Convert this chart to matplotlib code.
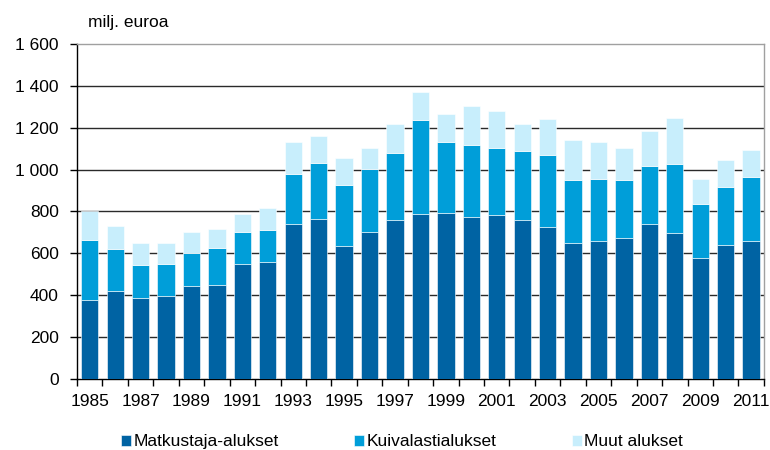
import matplotlib
matplotlib.use("Agg")
import matplotlib.pyplot as plt
import numpy as np

years = list(range(1985, 2012))
matkustaja = [379, 418, 389, 395, 443, 450, 549, 557, 742, 765, 635, 704, 757, 789, 795,
              773, 781, 757, 725, 648, 658, 672, 741, 696, 579, 642, 658]
kuivalasti_top = [664, 619, 542, 549, 603, 626, 702, 710, 979, 1034, 926, 1002, 1080, 1235, 1133,
                  1118, 1104, 1088, 1072, 949, 955, 949, 1018, 1026, 834, 918, 965]
total = [800, 733, 648, 648, 702, 718, 786, 818, 1133, 1163, 1056, 1102, 1218, 1373, 1264,
         1302, 1280, 1218, 1240, 1141, 1133, 1102, 1186, 1248, 955, 1048, 1094]
kuivalasti = [k - m for k, m in zip(kuivalasti_top, matkustaja)]
muut = [t - k for t, k in zip(total, kuivalasti_top)]

series_names = ["Matkustaja-alukset", "Kuivalastialukset", "Muut alukset"]
colors = ["#0063A3", "#009ED9", "#C8EEFC"]
yticks = [0, 200, 400, 600, 800, 1000, 1200, 1400, 1600]
ytick_labels = ["0", "200", "400", "600", "800", "1 000", "1 200", "1 400", "1 600"]

plt.rcParams['font.family'] = ['Liberation Sans', 'DejaVu Sans']

fig = plt.figure(figsize=(7.7, 4.5), dpi=100)
ax = fig.add_axes([0.1, 0.158, 0.892, 0.744])

x = np.arange(len(years))
w = 0.68
bottom = np.zeros(len(years))
handles = []
for vals, col, name in zip([matkustaja, kuivalasti, muut], colors, series_names):
    b = ax.bar(x, vals, w, bottom=bottom, color=col, label=name, zorder=3,
               edgecolor='white', linewidth=0.4)
    handles.append(b)
    bottom += np.array(vals)

ax.set_xlim(-0.5, len(years) - 0.5)
ax.set_ylim(0, 1600)
ax.set_yticks(yticks)
ax.set_yticklabels(ytick_labels, fontsize=12.5)
for yv in yticks[1:-1]:
    ax.axhline(yv, color='#2a2a2a', lw=1.0, zorder=1)

ax.set_xticks(np.arange(-0.5, len(years), 1.0))
ax.set_xticklabels([])
ax.set_xticks(x[::2], minor=True)
ax.set_xticklabels([str(y) for y in years[::2]], minor=True, fontsize=12.5)
ax.tick_params(axis='x', which='minor', length=0, pad=11)
ax.tick_params(axis='x', which='major', length=5, width=1, direction='out', color='black')
ax.tick_params(axis='y', length=5, width=1, direction='out', pad=8)

for s in ['top', 'right']:
    ax.spines[s].set_color('#A0A0A0')
    ax.spines[s].set_linewidth(1)
for s in ['left', 'bottom']:
    ax.spines[s].set_color('black')
    ax.spines[s].set_linewidth(1)

fig.text(88 / 770, 0.949, "milj. euroa", fontsize=12.5, va='center', ha='left')

leg_x = [121 / 770, 354 / 770, 572 / 770]
for h, name, lx in zip(handles, series_names, leg_x):
    fig.legend([h], [name], loc='center left', bbox_to_anchor=(lx, 0.018),
               frameon=False, fontsize=12.5, handlelength=0.6, handleheight=0.6,
               handletextpad=0.1, borderpad=0, borderaxespad=0)

fig.savefig("out.png", dpi=100)
